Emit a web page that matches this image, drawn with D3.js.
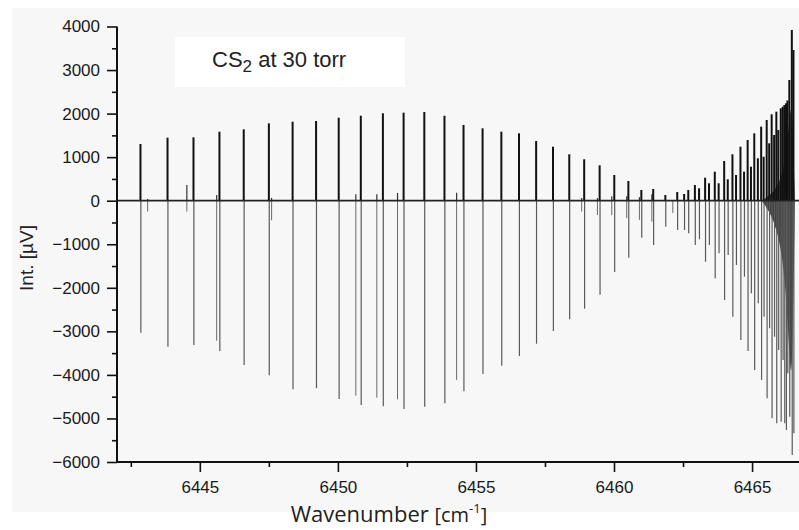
<!DOCTYPE html>
<html>
<head>
<meta charset="utf-8">
<script src="https://cdn.jsdelivr.net/npm/d3@7"></script>
<style>
  html, body { margin: 0; padding: 0; background: #ffffff; }
  svg { display: block; }
</style>
</head>
<body>
<svg id="chart" width="799" height="530"></svg>
<script>
// ---- Data ----
// Strong rotational lines: wavenumber [cm-1], positive lobe, negative lobe [µV]
const lineWavenumber = [
  6442.85, 6443.83, 6444.77, 6445.71, 6446.59, 6447.50, 6448.36, 6449.21, 6450.03, 6450.83,
  6451.63, 6452.38, 6453.13, 6453.86, 6454.55, 6455.24, 6455.92, 6456.56, 6457.18, 6457.79,
  6458.38, 6458.92, 6459.48, 6460.01, 6460.52, 6460.99, 6461.42, 6461.86, 6462.29, 6462.54,
  6462.69, 6462.93, 6463.08, 6463.30, 6463.44, 6463.65, 6463.79, 6463.99, 6464.12, 6464.29,
  6464.42, 6464.58, 6464.71, 6464.84, 6464.96, 6465.08, 6465.21, 6465.33, 6465.42, 6465.53,
  6465.62, 6465.71, 6465.80, 6465.88, 6465.95, 6466.04, 6466.11, 6466.17, 6466.23, 6466.28,
  6466.35, 6466.44, 6466.50
];
const linePositive = [
  1302, 1447, 1456, 1585, 1639, 1777, 1814, 1830, 1906, 1952,
  2007, 2021, 2037, 1950, 1738, 1662, 1585, 1547, 1371, 1240,
  1065, 951, 813, 590, 452, 246, 269, 131, 200, 154,
  246, 360, 285, 528, 400, 666, 400, 912, 491, 1065,
  590, 1240, 666, 1394, 781, 1547, 973, 1700, 1010, 1853,
  1318, 1984, 1509, 2044, 1624, 2122, 2158, 2197, 2236, 2300,
  2772, 3920, 3460
];
const lineNegative = [
  -3031, -3352, -3313, -3451, -3773, -4010, -4331, -4308, -4553, -4691,
  -4722, -4783, -4730, -4652, -4377, -3979, -3788, -3566, -3283, -2992,
  -2724, -2480, -2158, -1640, -1309, -850, -1017, -597, -673, -673,
  -749, -1017, -887, -1401, -1017, -1782, -1208, -2280, -1247, -2664,
  -1476, -3199, -1745, -3451, -2126, -3888, -2356, -4117, -2664, -4537,
  -2930, -4997, -3123, -5111, -3428, -5075, -3658, -5111, -5265, -3960,
  -4960, -5840, -5340
];
// Weak (hot-band) lines
const weakWavenumber = [6443.11, 6444.53, 6445.61, 6447.60, 6450.65, 6451.41, 6452.16, 6454.30,
  6458.83, 6459.40, 6459.92, 6460.46, 6460.92, 6461.37, 6462.13];
const weakPositive = [40, 360, 130, 60, 147, 150, 177, 184, 60, 60, 100, 100, 80, 150, 0];
const weakNegative = [-250, -250, -3215, -450, -4478, -4523, -4561, -4117, -250, -330, -330, -400, -440, -482, -283];
// Unresolved band head envelope
const headWavenumber = [6465.35, 6465.7, 6466.0, 6466.2, 6466.35, 6466.45, 6466.55];
const headUpper = [0, 150, 400, 900, 1800, 2500, 0];
const headLower = [0, -300, -900, -1800, -3500, -4500, 0];

// Axis ticks
const yMajorTicks = [-6000, -5000, -4000, -3000, -2000, -1000, 0, 1000, 2000, 3000, 4000];
const yMinorTicks = [-5500, -4500, -3500, -2500, -1500, -500, 500, 1500, 2500, 3500];
const xMajorTicks = [6445, 6450, 6455, 6460, 6465];
const xMinorTicks = [6442.5, 6447.5, 6452.5, 6457.5, 6462.5];

const legendText = "CS";
const legendSub = "2";
const legendRest = " at 30 torr";

// ---- Layout ----
const svg = d3.select("#chart");
const mLeft = 117, mRight = 799, mTop = 26.5, mBottom = 462;
const x = d3.scaleLinear().domain([6442, 6466.7]).range([mLeft, mRight]);
const y = d3.scaleLinear().domain([-6000, 4000]).range([mBottom, mTop]);

// scanned paper background
svg.append("rect").attr("x", 12).attr("y", 8).attr("width", 787).attr("height", 504).attr("fill", "#f7f7f7");

// legend box
svg.append("rect").attr("x", 175).attr("y", 37).attr("width", 230).attr("height", 50).attr("fill", "#ffffff");
const lt = svg.append("text").attr("x", 212).attr("y", 67)
  .attr("font-family", "'Liberation Sans', Arial, sans-serif").attr("font-size", 22).attr("fill", "#222");
lt.append("tspan").text(legendText);
lt.append("tspan").attr("font-size", 17).attr("dy", 5).text(legendSub);
lt.append("tspan").attr("dy", -5).text(legendRest);

const plot = svg.append("g");

// band head fill
const area = d3.area().x((d, i) => x(headWavenumber[i])).y0((d, i) => y(headLower[i])).y1((d, i) => y(headUpper[i])).curve(d3.curveBasis);
plot.append("path").datum(headWavenumber).attr("d", area).attr("fill", "#222").attr("opacity", 0.85);

// weak lines
weakWavenumber.forEach((v, i) => {
  plot.append("line").attr("x1", x(v)).attr("x2", x(v)).attr("y1", y(0)).attr("y2", y(weakNegative[i]))
    .attr("stroke", "#6a6a6a").attr("stroke-width", 1);
  plot.append("line").attr("x1", x(v)).attr("x2", x(v)).attr("y1", y(0)).attr("y2", y(weakPositive[i]))
    .attr("stroke", "#333").attr("stroke-width", 1.2);
});
// strong lines
lineWavenumber.forEach((v, i) => {
  plot.append("line").attr("x1", x(v) + 0.4).attr("x2", x(v) + 0.4).attr("y1", y(0)).attr("y2", y(lineNegative[i]))
    .attr("stroke", "#5a5a5a").attr("stroke-width", 1.2);
  plot.append("line").attr("x1", x(v)).attr("x2", x(v)).attr("y1", y(0)).attr("y2", y(linePositive[i]))
    .attr("stroke", "#111").attr("stroke-width", 2);
});
// baseline
plot.append("line").attr("x1", mLeft).attr("x2", mRight).attr("y1", y(0)).attr("y2", y(0))
  .attr("stroke", "#222").attr("stroke-width", 1.8);

// ---- Axes ----
const font = "'Liberation Sans', Arial, sans-serif";
const yAxis = svg.append("g").attr("transform", `translate(${mLeft},0)`)
  .call(d3.axisLeft(y).tickValues(yMajorTicks).tickSize(10).tickPadding(7).tickFormat(d3.format("d")));
yAxis.select(".domain").remove();
yAxis.selectAll("line").attr("stroke", "#111").attr("stroke-width", 1.6);
yAxis.selectAll("text").attr("font-family", font).attr("font-size", 17).attr("fill", "#1a1a1a");
const yMinor = svg.append("g").attr("transform", `translate(${mLeft},0)`)
  .call(d3.axisLeft(y).tickValues(yMinorTicks).tickSize(5).tickFormat(""));
yMinor.select(".domain").remove();
yMinor.selectAll("line").attr("stroke", "#111").attr("stroke-width", 1.6);

const xAxis = svg.append("g").attr("transform", `translate(0,${mBottom})`)
  .call(d3.axisBottom(x).tickValues(xMajorTicks).tickSize(10).tickPadding(9).tickFormat(d3.format("d")));
xAxis.select(".domain").remove();
xAxis.selectAll("line").attr("stroke", "#111").attr("stroke-width", 1.6);
xAxis.selectAll("text").attr("font-family", font).attr("font-size", 17).attr("fill", "#1a1a1a");
const xMinor = svg.append("g").attr("transform", `translate(0,${mBottom})`)
  .call(d3.axisBottom(x).tickValues(xMinorTicks).tickSize(5).tickFormat(""));
xMinor.select(".domain").remove();
xMinor.selectAll("line").attr("stroke", "#111").attr("stroke-width", 1.6);

// axis lines
svg.append("line").attr("x1", mLeft).attr("x2", mLeft).attr("y1", mTop).attr("y2", mBottom + 0.8)
  .attr("stroke", "#111").attr("stroke-width", 2);
svg.append("line").attr("x1", mLeft).attr("x2", mRight).attr("y1", mBottom).attr("y2", mBottom)
  .attr("stroke", "#111").attr("stroke-width", 2);

// axis titles
svg.append("text").attr("transform", "translate(33,258) rotate(-90)").attr("text-anchor", "middle")
  .attr("font-family", font).attr("font-size", 19).attr("fill", "#222").text("Int. [µV]");

const xt = svg.append("text").attr("x", 389).attr("y", 522).attr("text-anchor", "middle")
  .attr("font-family", "'Open Sans', sans-serif").attr("font-size", 22).attr("fill", "#222");
xt.append("tspan").text("Wavenumber ");
xt.append("tspan").attr("font-size", 20).text("[cm");
xt.append("tspan").attr("font-size", 13).attr("dy", -9).text("-1");
xt.append("tspan").attr("font-size", 20).attr("dy", 9).text("]");
</script>
</body>
</html>
